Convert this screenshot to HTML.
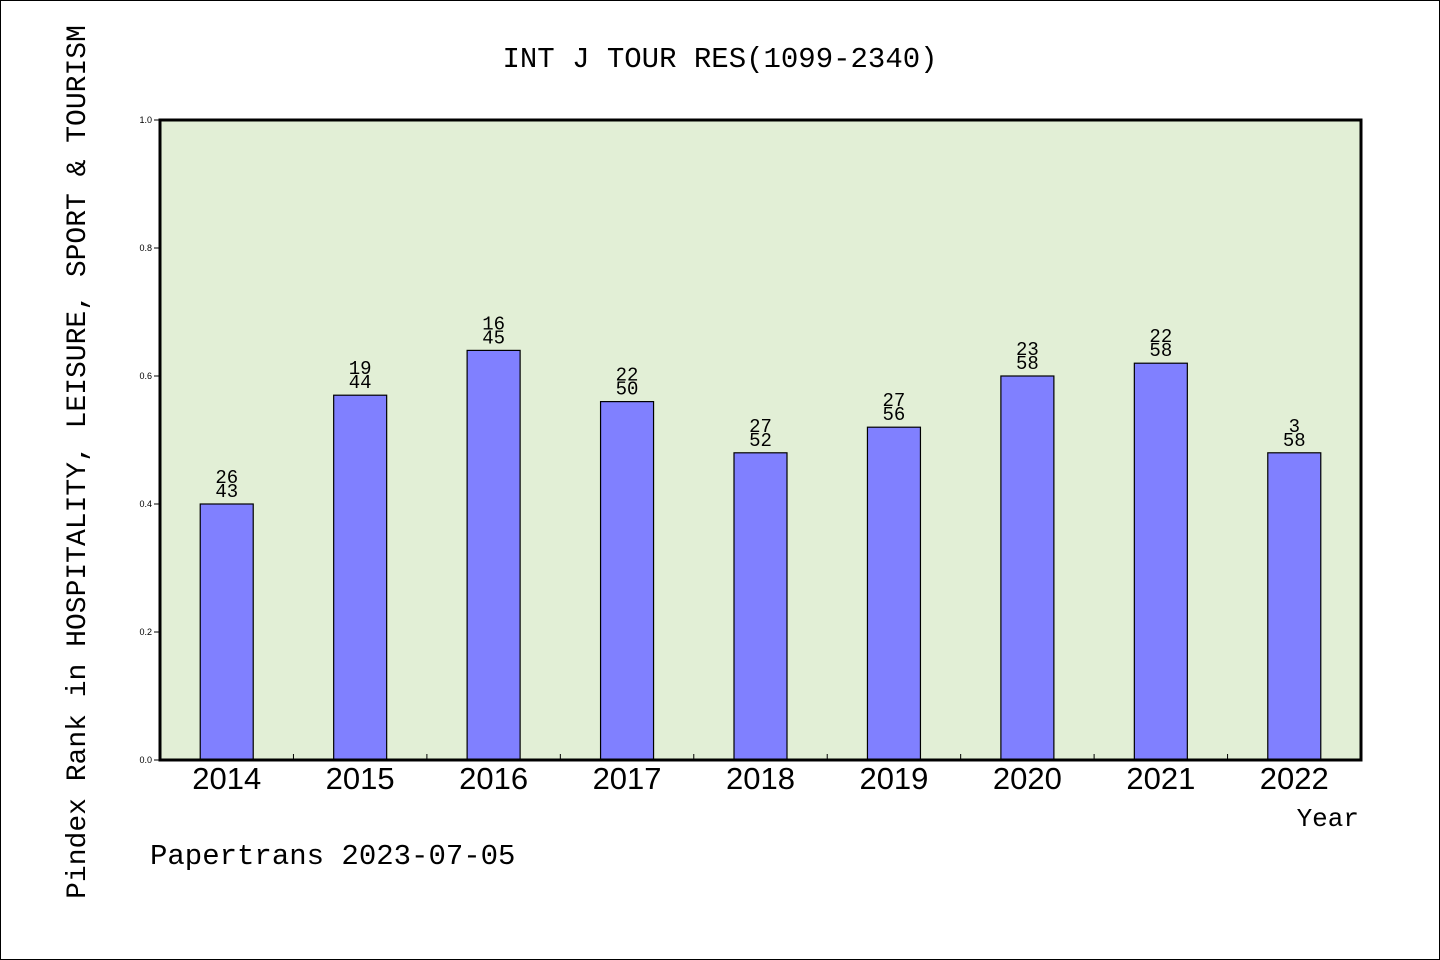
<!DOCTYPE html>
<html><head><meta charset="utf-8"><style>
body{margin:0;background:#fff}
svg{display:block}
</style></head><body>
<svg width="1440" height="960" xmlns="http://www.w3.org/2000/svg">
<rect x="0.5" y="0.5" width="1439" height="959" fill="#fff" stroke="#000"/>
<text x="720" y="67" text-anchor="middle" font-family="Liberation Mono, monospace" font-size="29">INT J TOUR RES(1099-2340)</text>
<rect x="160" y="120" width="1201" height="640" fill="#e2efd6"/>
<g id="bars"></g>
<g id="axes"></g>
<rect x="160" y="120" width="1201" height="640" fill="none" stroke="#000" stroke-width="3"/>
<text transform="translate(85,462) rotate(-90)" text-anchor="middle" font-family="Liberation Mono, monospace" font-size="28">Pindex Rank in HOSPITALITY, LEISURE, SPORT &amp; TOURISM</text>
<text x="1359" y="826" text-anchor="end" font-family="Liberation Mono, monospace" font-size="26">Year</text>
<text x="150" y="864" font-family="Liberation Mono, monospace" font-size="29">Papertrans 2023-07-05</text>
</svg>
<script>
const categories=["2014","2015","2016","2017","2018","2019","2020","2021","2022"];
const values=[0.40,0.57,0.64,0.56,0.48,0.52,0.60,0.62,0.48];
const ranks=["26","19","16","22","27","27","23","22","3"];
const totals=["43","44","45","50","52","56","58","58","58"];
const yTicks=[0,0.2,0.4,0.6,0.8,1.0];
const NS="http://www.w3.org/2000/svg";
const x0=160,x1=1361,yb=760,yt=120;
const step=(x1-x0)/categories.length;
const xC=i=>x0+step*(i+0.5);
const yS=v=>yb-(yb-yt)*v;
function mk(t,a,p){const e=document.createElementNS(NS,t);for(const k in a)e.setAttribute(k,a[k]);p.appendChild(e);return e;}
const bars=document.getElementById('bars'),axes=document.getElementById('axes');
categories.forEach((c,i)=>{
 const b=mk('rect',{x:xC(i)-26.5,y:yS(values[i]),width:53,height:yb-yS(values[i]),fill:'#8080ff',stroke:'#000','stroke-width':1.2},bars);
 
 
 const t1=mk('text',{x:xC(i),y:yS(values[i])-21,'text-anchor':'middle','font-family':'Liberation Mono, monospace','font-size':19},bars);
 t1.textContent=ranks[i];
 
 
 const t2=mk('text',{x:xC(i),y:yS(values[i])-7,'text-anchor':'middle','font-family':'Liberation Mono, monospace','font-size':19},bars);
 t2.textContent=totals[i];
 
 
 const xl=mk('text',{x:xC(i),y:789,'text-anchor':'middle','font-family':'Liberation Sans, sans-serif','font-size':31},axes);
 xl.textContent=c;
 
 
 if(i>0){const tk=mk('line',{x1:x0+step*i,x2:x0+step*i,y1:yb,y2:yb-6,stroke:'#000'},axes);
 
 }
});
yTicks.forEach(v=>{
 const tk=mk('line',{x1:x0-6,x2:x0,y1:yS(v),y2:yS(v),stroke:'#000'},axes);
 
 
 const l=mk('text',{x:x0-8,y:yS(v)+3,'text-anchor':'end','font-family':'Liberation Sans, sans-serif','font-size':9},axes);
 l.textContent=v.toFixed(1);
 
 
});
</script>
</body></html>
